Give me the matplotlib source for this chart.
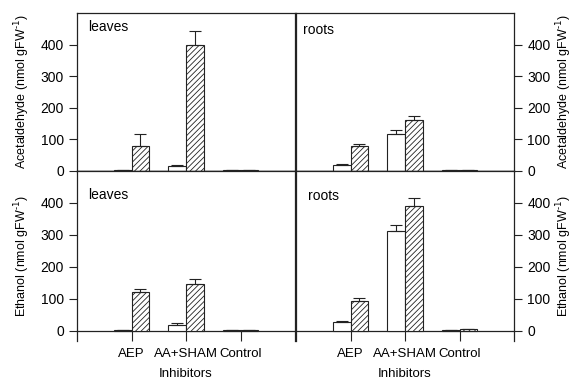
import numpy as np
import matplotlib
matplotlib.use("Agg")
import matplotlib.pyplot as plt

plt.rcParams['font.family'] = ['Liberation Sans', 'DejaVu Sans']
plt.rcParams['hatch.linewidth'] = 0.6
plt.rcParams['hatch.color'] = '#333333'

# categories on the x axis
inhibitors = ['AEP', 'AA+SHAM', 'Control']
y_ticks = [0, 100, 200, 300, 400]

# acetaldehyde (nmol gFW-1): open bars / hatched bars, upper error
leaves_acet_open = [1, 15, 2]
leaves_acet_open_err = [0, 4, 0]
leaves_acet_hatch = [80, 400, 2]
leaves_acet_hatch_err = [35, 43, 0]

roots_acet_open = [18, 115, 3]
roots_acet_open_err = [3, 13, 0]
roots_acet_hatch = [80, 160, 3]
roots_acet_hatch_err = [6, 15, 0]

# ethanol (nmol gFW-1)
leaves_eth_open = [1, 18, 1]
leaves_eth_open_err = [0, 5, 0]
leaves_eth_hatch = [122, 145, 1]
leaves_eth_hatch_err = [10, 18, 0]

roots_eth_open = [28, 312, 3]
roots_eth_open_err = [2, 17, 0]
roots_eth_hatch = [93, 390, 4]
roots_eth_hatch_err = [9, 25, 0]

W, H = 575, 385
fig = plt.figure(figsize=(W / 100, H / 100), dpi=100)

left_x = [77 / W, 296 / W]
panel_w = 218 / W
top_box = (1 - 170.7 / H, 157.4 / H)
bot_box = (1 - 341 / H, 170.3 / H)

line_col = '#222222'
bar_w = 0.33
x = np.arange(1, len(inhibitors) + 1)
unit_label = ' (nmol gFW$^{\\text{-}1}$)'


def draw_bars(ax, open_vals, open_err, hatch_vals, hatch_err):
    ax.bar(x - bar_w / 2, open_vals, bar_w, color='white', edgecolor=line_col,
           linewidth=0.8, zorder=3,
           yerr=[np.zeros(len(open_err)), open_err],
           error_kw=dict(ecolor=line_col, elinewidth=0.8, capsize=4, capthick=0.8))
    ax.bar(x + bar_w / 2, hatch_vals, bar_w, color='white', edgecolor=line_col,
           hatch='//////', linewidth=0.8, zorder=3,
           yerr=[np.zeros(len(hatch_err)), hatch_err],
           error_kw=dict(ecolor=line_col, elinewidth=0.8, capsize=4, capthick=0.8))


def style_axis(ax, side, bottom_row):
    ax.set_xlim(0, 4)
    for sp in ax.spines.values():
        sp.set_color(line_col)
        sp.set_linewidth(0.9)
    ax.spines['bottom'].set_position(('data', 0))
    ax.set_yticks(y_ticks)
    ax.tick_params(axis='y', direction='out', length=6, width=0.8,
                   colors=line_col, labelsize=10, labelcolor='black')
    if side == 'right':
        ax.yaxis.tick_right()
        ax.yaxis.set_label_position('right')
    if bottom_row:
        ax.set_ylim(-32, 500)
        ax.set_xticks(x)
        ax.set_xticklabels(inhibitors)
        ax.tick_params(axis='x', direction='out', length=7.5, width=0.8,
                       colors=line_col, labelsize=9.5, labelcolor='black', pad=5)
        ax.set_xlabel('Inhibitors', fontsize=9.5, labelpad=6)
    else:
        ax.set_ylim(0, 500)
        ax.set_xticks([])
        # zero line shared with the panel below
        ax.axhline(0, color=line_col, linewidth=1.0, clip_on=False, zorder=4)


# column, box, axis side, bottom row, tissue label and its position, data, compound
panels = [
    (0, top_box, 'left', False, 'leaves', (0.05, 0.915),
     leaves_acet_open, leaves_acet_open_err, leaves_acet_hatch, leaves_acet_hatch_err,
     'Acetaldehyde'),
    (1, top_box, 'right', False, 'roots', (0.03, 0.895),
     roots_acet_open, roots_acet_open_err, roots_acet_hatch, roots_acet_hatch_err,
     'Acetaldehyde'),
    (0, bot_box, 'left', True, 'leaves', (0.05, 0.855),
     leaves_eth_open, leaves_eth_open_err, leaves_eth_hatch, leaves_eth_hatch_err,
     'Ethanol'),
    (1, bot_box, 'right', True, 'roots', (0.055, 0.85),
     roots_eth_open, roots_eth_open_err, roots_eth_hatch, roots_eth_hatch_err,
     'Ethanol'),
]

for col, box, side, bottom_row, tissue, txt_pos, ov, oe, hv, he, compound in panels:
    ax = fig.add_axes([left_x[col], box[0], panel_w, box[1]])
    draw_bars(ax, ov, oe, hv, he)
    style_axis(ax, side, bottom_row)
    ax.text(txt_pos[0], txt_pos[1], tissue, transform=ax.transAxes, fontsize=10,
            ha='left', va='center')
    if side == 'right':
        ax.set_ylabel(compound + unit_label, fontsize=9, rotation=90, labelpad=3)
    else:
        ax.set_ylabel(compound + unit_label, fontsize=9, labelpad=6)

fig.savefig('out.png', dpi=100)
